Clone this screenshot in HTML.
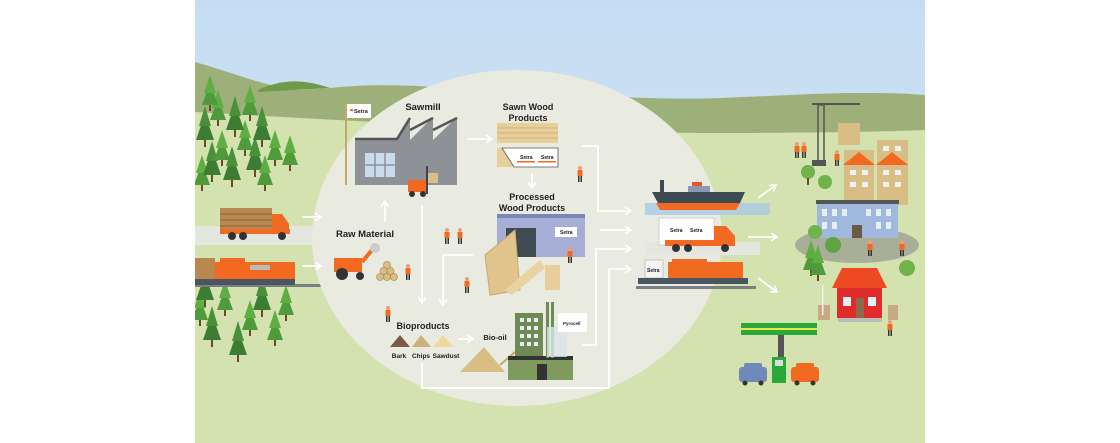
<!DOCTYPE html>
<html><head><meta charset="utf-8"><style>
html,body{margin:0;padding:0;background:#fff;width:1120px;height:443px;overflow:hidden}
svg{display:block}
text{font-family:"Liberation Sans",sans-serif;font-weight:bold;fill:#222}
</style></head><body>
<svg width="1120" height="443" viewBox="0 0 1120 443" xmlns="http://www.w3.org/2000/svg">
<defs>
<linearGradient id="sky" x1="0" y1="0" x2="0" y2="1"><stop offset="0" stop-color="#c5ddf3"/><stop offset="1" stop-color="#d6e7f2"/></linearGradient>
<clipPath id="c"><rect x="195" y="0" width="730" height="443"/></clipPath>
<g id="tree"><polygon points="0,-22 -8,0 8,0" fill="#4f9a3a"/><polygon points="0,-30 -6,-12 6,-12" fill="#5fae44"/><rect x="-1" y="0" width="2" height="6" fill="#6b4a2b"/></g>
<g id="tree2"><polygon points="0,-26 -9,0 9,0" fill="#3c7d33"/><polygon points="0,-34 -6,-14 6,-14" fill="#4a8f3a"/><rect x="-1" y="0" width="2" height="7" fill="#6b4a2b"/></g>
<g id="man"><circle cx="0" cy="-8" r="2" fill="#e8a07a"/><rect x="-2.5" y="-6" width="5" height="6" fill="#f26a21"/><rect x="-2" y="0" width="1.5" height="6" fill="#333"/><rect x="0.5" y="0" width="1.5" height="6" fill="#333"/></g>
<marker id="ah" markerWidth="8" markerHeight="8" refX="6" refY="4" orient="auto" markerUnits="userSpaceOnUse"><path d="M0,0 L6,4 L0,8" fill="none" stroke="#fff" stroke-width="1.6"/></marker>
</defs>
<g clip-path="url(#c)">
<rect x="195" y="0" width="730" height="443" fill="url(#sky)"/>
<path d="M195,62 C240,75 270,88 300,90 L330,88 C400,80 480,92 560,95 C620,97 680,100 720,98 C800,95 860,90 925,95 L925,443 L195,443 Z" fill="#9eb07a"/>
<path d="M258,90 C280,80 300,78 330,88 L258,92 Z" fill="#6f9a4a"/>
<path d="M195,112 C300,118 500,130 700,133 C800,133 880,132 925,130 L925,443 L195,443 Z" fill="#d3e2ae"/>
<g>
<use href="#tree" x="202" y="185"/><use href="#tree2" x="212" y="175"/><use href="#tree" x="222" y="160"/><use href="#tree2" x="232" y="180"/><use href="#tree" x="245" y="150"/><use href="#tree2" x="255" y="170"/><use href="#tree" x="265" y="185"/><use href="#tree" x="275" y="160"/><use href="#tree2" x="205" y="140"/><use href="#tree" x="218" y="120"/><use href="#tree2" x="235" y="130"/><use href="#tree" x="250" y="115"/><use href="#tree" x="290" y="165"/><use href="#tree2" x="262" y="140"/><use href="#tree" x="210" y="105"/>
<use href="#tree" x="200" y="320"/><use href="#tree2" x="212" y="340"/><use href="#tree" x="225" y="310"/><use href="#tree2" x="238" y="355"/><use href="#tree" x="250" y="330"/><use href="#tree2" x="262" y="310"/><use href="#tree" x="275" y="340"/><use href="#tree" x="286" y="315"/><use href="#tree2" x="205" y="300"/>
</g>
<rect x="195" y="226" width="140" height="19" fill="#e4e6e0"/>
<rect x="195" y="284" width="140" height="3" fill="#7a7f86"/>
<ellipse cx="517" cy="238" rx="205" ry="168" fill="#e9eae0"/>
<rect x="645" y="203" width="125" height="12" fill="#a9cbe6" opacity=".8"/>
<rect x="645" y="242" width="115" height="13" fill="#e4e6e0"/>
<rect x="636" y="286" width="120" height="3" fill="#7a7f86"/>
<!-- left truck -->
<rect x="220" y="208" width="52" height="22" fill="#b8884f"/><g stroke="#8a6238" stroke-width="1"><line x1="220" y1="214" x2="272" y2="214"/><line x1="220" y1="220" x2="272" y2="220"/><line x1="220" y1="226" x2="272" y2="226"/></g>
<rect x="220" y="229" width="70" height="5" fill="#f26a21"/><path d="M272,214 h10 l7,10 v10 h-17 z" fill="#f26a21"/>
<circle cx="232" cy="236" r="4" fill="#333"/><circle cx="243" cy="236" r="4" fill="#333"/><circle cx="282" cy="236" r="4" fill="#333"/>
<rect x="195" y="258" width="20" height="22" fill="#b8884f"/>
<rect x="215" y="262" width="80" height="18" fill="#f26a21"/><rect x="220" y="258" width="25" height="6" fill="#f26a21"/><rect x="250" y="265" width="20" height="5" fill="#bbb"/>
<rect x="195" y="279" width="100" height="6" fill="#4a5560"/>
<!-- connectors -->
<g stroke="#fff" stroke-width="1.8" fill="none" marker-end="url(#ah)">
<line x1="302" y1="217" x2="321" y2="217"/><line x1="302" y1="266" x2="321" y2="266"/>
<line x1="385" y1="222" x2="385" y2="201"/><line x1="467" y1="139" x2="492" y2="139"/>
<line x1="532" y1="173" x2="532" y2="188"/><line x1="422" y1="205" x2="422" y2="303"/>
<path d="M473,255 H443 V305"/><line x1="458" y1="339" x2="473" y2="339"/>
<path d="M582,146 H598 V211 H631"/><path d="M600,230 H631"/><path d="M582,345 H596 V249 H631"/>
<path d="M422,363 V388 H609 V269 H631"/>
<line x1="758" y1="198" x2="776" y2="185"/><line x1="748" y1="237" x2="777" y2="237"/><line x1="758" y1="278" x2="777" y2="292"/>
</g>
<!-- sawmill -->
<rect x="345" y="103" width="2" height="82" fill="#c8a86a"/><rect x="347" y="104" width="24" height="14" fill="#fff"/><text x="354" y="113" font-size="5.5" fill="#555">Setra</text><rect x="350" y="109" width="3" height="2" fill="#f26a21"/>
<text x="423" y="110" font-size="9.5" text-anchor="middle">Sawmill</text>
<path d="M355,140 H397 L410,117 V140 L433,117 V140 L457,117 V185 H355 Z" fill="#8e9196"/>
<path d="M355,139 H397 L410,118 M410,130 L433,118 M433,130 L457,118" stroke="#555" stroke-width="2.5" fill="none"/>
<rect x="365" y="153" width="30" height="24" fill="#c8dced"/><g stroke="#8e9196" stroke-width="1.5"><line x1="375" y1="153" x2="375" y2="177"/><line x1="385" y1="153" x2="385" y2="177"/><line x1="365" y1="165" x2="395" y2="165"/></g>
<rect x="408" y="180" width="18" height="12" fill="#f26a21"/><circle cx="412" cy="194" r="3" fill="#333"/><circle cx="423" cy="194" r="3" fill="#333"/><rect x="426" y="166" width="2" height="28" fill="#444"/><rect x="428" y="173" width="10" height="10" fill="#d9c08a"/>
<!-- sawn wood -->
<text x="528" y="110" font-size="9" text-anchor="middle">Sawn Wood</text><text x="528" y="121" font-size="9" text-anchor="middle">Products</text>
<rect x="497" y="123" width="61" height="20" fill="#e7cf9c"/><g stroke="#c9a86a" stroke-width=".8"><line x1="497" y1="128" x2="558" y2="128"/><line x1="497" y1="133" x2="558" y2="133"/><line x1="497" y1="138" x2="558" y2="138"/></g>
<rect x="497" y="148" width="20" height="19" fill="#e7cf9c"/><path d="M502,148 H558 V167 H514 Z" fill="#fff" stroke="#555" stroke-width=".8"/>
<text x="520" y="159" font-size="5" fill="#555">Setra</text><text x="541" y="159" font-size="5" fill="#555">Setra</text><rect x="517" y="161" width="18" height="1.5" fill="#f26a21"/><rect x="538" y="161" width="18" height="1.5" fill="#f26a21"/>
<!-- processed -->
<text x="532" y="200" font-size="9" text-anchor="middle">Processed</text><text x="532" y="211" font-size="9" text-anchor="middle">Wood Products</text>
<rect x="497" y="217" width="88" height="40" fill="#a7aed6"/><rect x="497" y="214" width="88" height="4" fill="#7c86b8"/><rect x="506" y="228" width="30" height="29" fill="#3f4a52"/>
<rect x="555" y="227" width="22" height="10" fill="#fff"/><text x="560" y="234" font-size="5" fill="#555">Setra</text>
<path d="M485,255 L515,230 L520,290 L490,295 Z" fill="#e0c48c" stroke="#c9a86a"/><path d="M505,290 L540,260 L545,268 L512,295 Z" fill="#e9d3a2"/><rect x="545" y="265" width="15" height="25" fill="#e7cf9c"/>
<use href="#man" x="570" y="257"/><use href="#man" x="580" y="176"/>
<use href="#man" x="447" y="238"/><use href="#man" x="460" y="238"/><use href="#man" x="467" y="287"/><use href="#man" x="388" y="316"/><use href="#man" x="408" y="274"/>
<!-- raw material -->
<text x="365" y="237" font-size="9.5" text-anchor="middle">Raw Material</text>
<rect x="334" y="258" width="28" height="14" fill="#f26a21"/><circle cx="342" cy="274" r="6" fill="#333"/><circle cx="360" cy="276" r="4" fill="#333"/><path d="M362,262 L372,250" stroke="#f26a21" stroke-width="4"/><circle cx="375" cy="248" r="5" fill="#ccc"/>
<g fill="#d8bd85" stroke="#b08f55" stroke-width=".7"><circle cx="380" cy="277" r="3.5"/><circle cx="387" cy="277" r="3.5"/><circle cx="394" cy="277" r="3.5"/><circle cx="383.5" cy="271" r="3.5"/><circle cx="390.5" cy="271" r="3.5"/><circle cx="387" cy="265" r="3.5"/></g>
<!-- bioproducts -->
<text x="423" y="329" font-size="9" text-anchor="middle">Bioproducts</text>
<polygon points="390,347 400,335 410,347" fill="#7a5a4a"/><polygon points="412,347 421,335 431,347" fill="#cdb27a"/><polygon points="433,347 443,335 453,347" fill="#f0d89a"/>
<text x="399" y="358" font-size="6.5" text-anchor="middle">Bark</text><text x="421" y="358" font-size="6.5" text-anchor="middle">Chips</text><text x="446" y="358" font-size="6.5" text-anchor="middle">Sawdust</text>
<text x="495" y="340" font-size="7.5" text-anchor="middle">Bio-oil</text>
<polygon points="460,372 484,347 505,372" fill="#d8bd85"/><line x1="500" y1="365" x2="515" y2="352" stroke="#c9a86a" stroke-width="2"/>
<rect x="515" y="313" width="28" height="45" fill="#6f8a55"/>
<g fill="#e6eef6"><rect x="520" y="318" width="4" height="4"/><rect x="527" y="318" width="4" height="4"/><rect x="534" y="318" width="4" height="4"/><rect x="520" y="326" width="4" height="4"/><rect x="527" y="326" width="4" height="4"/><rect x="534" y="326" width="4" height="4"/><rect x="520" y="334" width="4" height="4"/><rect x="527" y="334" width="4" height="4"/><rect x="534" y="334" width="4" height="4"/><rect x="520" y="342" width="4" height="4"/><rect x="527" y="342" width="4" height="4"/><rect x="534" y="342" width="4" height="4"/></g>
<rect x="508" y="358" width="65" height="22" fill="#7f9a5f"/><rect x="508" y="356" width="65" height="4" fill="#333"/><rect x="537" y="364" width="10" height="16" fill="#333"/>
<rect x="546" y="302" width="3" height="56" fill="#6f8a55"/><rect x="551" y="302" width="3" height="56" fill="#6f8a55"/><rect x="547" y="327" width="20" height="30" fill="#d8e6e6" opacity=".8"/>
<rect x="558" y="313" width="29" height="19" fill="#fff"/><text x="563" y="325" font-size="4.5" fill="#555">Pyrocell</text>
<!-- ship -->
<rect x="660" y="180" width="4" height="12" fill="#3e4a52"/><path d="M652,192 H745 L740,203 H658 Z" fill="#3e4a52"/><path d="M656,203 H740 L736,210 H660 Z" fill="#f26a21"/>
<rect x="688" y="186" width="22" height="6" fill="#8d97b3"/><rect x="692" y="182" width="10" height="4" fill="#e25b2a"/>
<rect x="659" y="218" width="55" height="27" fill="#fff" stroke="#bbb" stroke-width=".6"/><text x="670" y="232" font-size="5" fill="#555">Setra</text><text x="690" y="232" font-size="5" fill="#555">Setra</text>
<path d="M714,226 h12 l9,10 v10 h-21 z" fill="#f26a21"/><rect x="665" y="240" width="70" height="6" fill="#f26a21"/>
<circle cx="676" cy="248" r="4" fill="#333"/><circle cx="688" cy="248" r="4" fill="#333"/><circle cx="725" cy="248" r="4" fill="#333"/>
<rect x="645" y="260" width="18" height="18" fill="#f4f4f4" stroke="#aaa" stroke-width=".6"/><text x="647" y="272" font-size="5" fill="#555">Setra</text>
<rect x="668" y="262" width="75" height="16" fill="#f26a21"/><rect x="672" y="259" width="35" height="6" fill="#f26a21"/><rect x="638" y="278" width="110" height="6" fill="#4a5560"/>
<!-- crane -->
<rect x="818" y="105" width="6" height="60" fill="none" stroke="#555" stroke-width="1.5"/><line x1="812" y1="104" x2="860" y2="104" stroke="#555" stroke-width="2"/><rect x="812" y="160" width="14" height="6" fill="#555"/>
<rect x="838" y="123" width="22" height="22" fill="#d8bd85"/><use href="#man" x="797" y="152"/><use href="#man" x="804" y="152"/><use href="#man" x="837" y="160"/>
<rect x="844" y="150" width="30" height="55" fill="#d8bd85"/><rect x="877" y="140" width="31" height="65" fill="#d8bd85"/>
<polygon points="843,165 859,152 875,165" fill="#f26a21"/><polygon points="876,165 892,152 908,165" fill="#f26a21"/>
<g fill="#eef2f5"><rect x="850" y="170" width="6" height="5"/><rect x="862" y="170" width="6" height="5"/><rect x="850" y="182" width="6" height="5"/><rect x="862" y="182" width="6" height="5"/><rect x="883" y="170" width="6" height="5"/><rect x="895" y="170" width="6" height="5"/><rect x="883" y="182" width="6" height="5"/><rect x="895" y="182" width="6" height="5"/><rect x="883" y="146" width="6" height="5"/><rect x="895" y="146" width="6" height="5"/></g>
<ellipse cx="857" cy="245" rx="62" ry="18" fill="#a9ae98"/>
<rect x="817" y="202" width="81" height="36" fill="#9fb8dc"/><rect x="816" y="200" width="83" height="4" fill="#555"/>
<g fill="#e6eef6"><rect x="822" y="209" width="5" height="7"/><rect x="832" y="209" width="5" height="7"/><rect x="842" y="209" width="5" height="7"/><rect x="866" y="209" width="5" height="7"/><rect x="876" y="209" width="5" height="7"/><rect x="886" y="209" width="5" height="7"/><rect x="822" y="222" width="5" height="7"/><rect x="832" y="222" width="5" height="7"/><rect x="876" y="222" width="5" height="7"/><rect x="886" y="222" width="5" height="7"/></g>
<rect x="852" y="225" width="10" height="13" fill="#6b5a48"/>
<use href="#tree" x="811" y="270"/><use href="#tree" x="818" y="275"/>
<circle cx="808" cy="172" r="7" fill="#6fb34a"/><rect x="807" y="178" width="2" height="7" fill="#6b4a2b"/><circle cx="825" cy="182" r="7" fill="#6fb34a"/><circle cx="815" cy="232" r="7" fill="#6fb34a"/><circle cx="833" cy="245" r="8" fill="#5fa344"/><circle cx="907" cy="268" r="8" fill="#6fb34a"/>
<use href="#man" x="870" y="250"/><use href="#man" x="902" y="250"/>
<polygon points="832,288 842,268 877,268 887,288" fill="#ee4a22"/><rect x="837" y="288" width="45" height="30" fill="#e02b2b"/><rect x="843" y="297" width="8" height="9" fill="#dff0f8"/><rect x="868" y="297" width="8" height="9" fill="#dff0f8"/><rect x="856" y="298" width="8" height="20" fill="#8a6a4a"/><rect x="838" y="318" width="44" height="4" fill="#bbb"/>
<rect x="818" y="305" width="12" height="15" fill="#c9a984"/><rect x="888" y="305" width="10" height="15" fill="#c9a984"/><rect x="822" y="285" width="1.5" height="30" fill="#eee"/>
<use href="#man" x="890" y="330"/>
<rect x="741" y="323" width="76" height="12" fill="#2aa838"/><rect x="741" y="328" width="76" height="2" fill="#e8e84a"/>
<rect x="778" y="335" width="6" height="25" fill="#555"/><rect x="772" y="357" width="14" height="26" fill="#2aa838"/><rect x="775" y="360" width="8" height="6" fill="#ddd"/>
<rect x="739" y="367" width="28" height="15" rx="3" fill="#6f8ab8"/><rect x="744" y="363" width="18" height="6" rx="2" fill="#6f8ab8"/><rect x="791" y="367" width="28" height="15" rx="3" fill="#f26a21"/><rect x="796" y="363" width="18" height="6" rx="2" fill="#f26a21"/>
<circle cx="745" cy="383" r="2.5" fill="#333"/><circle cx="761" cy="383" r="2.5" fill="#333"/><circle cx="797" cy="383" r="2.5" fill="#333"/><circle cx="813" cy="383" r="2.5" fill="#333"/>
</g>
</svg>
</body></html>
